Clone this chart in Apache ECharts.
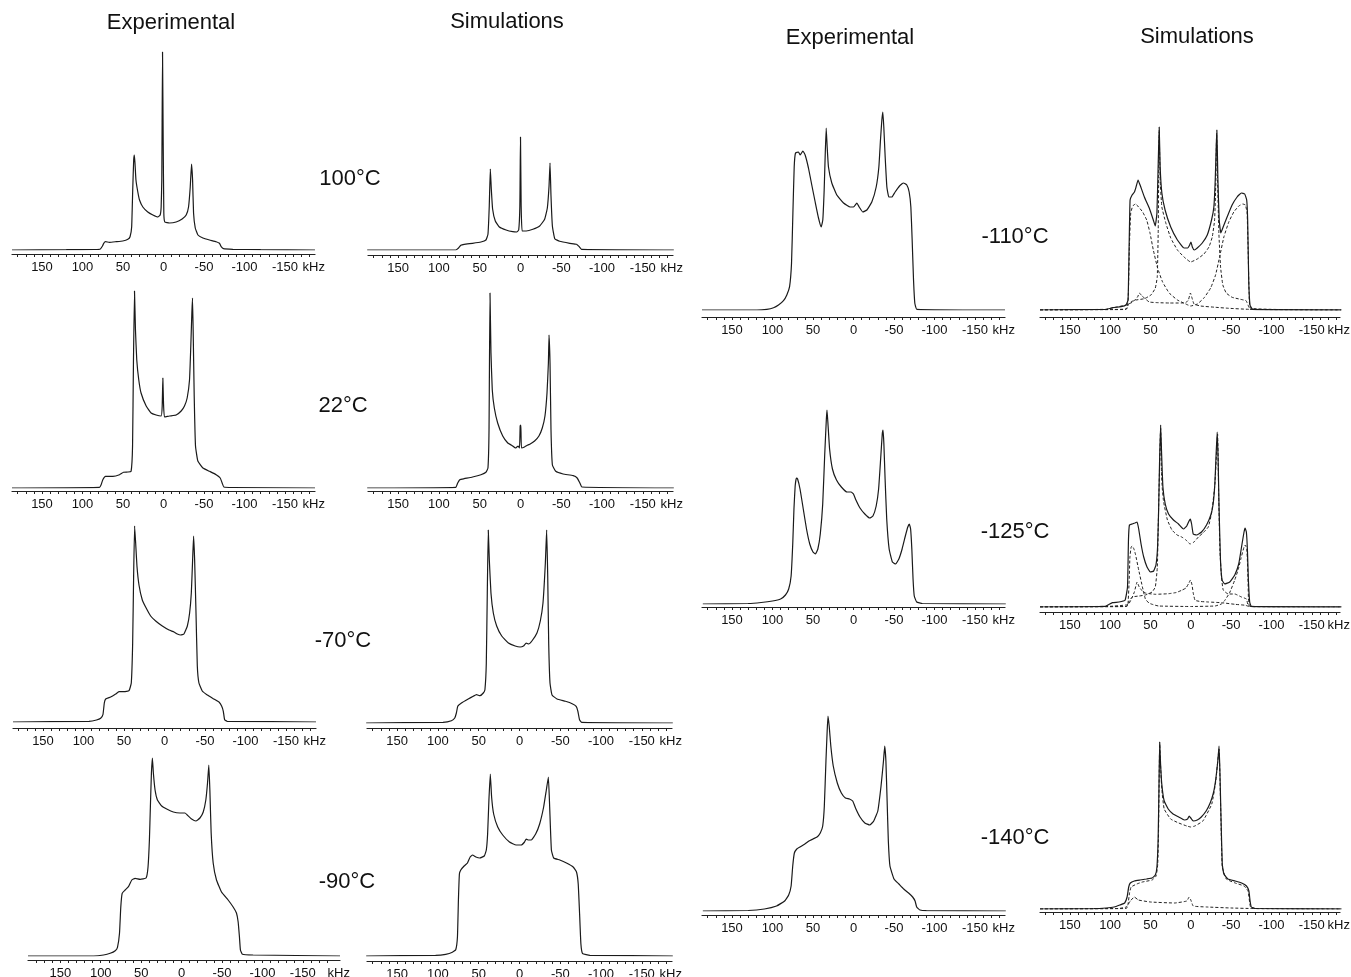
<!DOCTYPE html>
<html><head><meta charset="utf-8">
<script src="https://cdn.jsdelivr.net/npm/echarts@6/dist/echarts.min.js"></script>
<style>html,body{margin:0;padding:0;background:#fff}#c{width:1351px;height:977px}</style>
</head><body><div id="c"></div>
<script>
// ---------- DATA: [frequency kHz, intensity (arb. units)] ----------
const exp100 = [[187,0],[120,0.3],[85,0.5],[78.4,0.7],[75.3,4],[73.8,6.7],[71.6,8.3],[66.7,7.7],[58.6,8.3],[50.3,9],[44,10.7],[41.3,13.3],[39.3,23],[38,60],[36.8,90],[36,95],[35.2,87],[34,70],[31.7,58],[29.6,50],[25.5,43],[19.4,38],[13.1,35],[7,33],[4.1,35],[2.9,43],[2.1,70],[1.2,198],[0.4,110],[-0.4,37],[-1.6,28],[-7.4,27],[-15.6,28],[-23,31],[-28,35],[-30.9,43],[-33,63],[-34.6,86],[-35.9,70],[-37.1,37],[-39.2,22],[-42.5,15],[-48.6,12],[-56.8,10],[-65,8.3],[-69.1,6.7],[-71.2,3.3],[-74,1.3],[-85.6,0.7],[-120,0.3],[-187,0]];
const sim100 = [[188,0],[79.4,0],[76,2],[73.2,4.7],[69.1,5.7],[58.8,6.7],[48.5,8],[42.4,10],[39.9,15.7],[38.3,44],[37,81],[35.8,61],[34.2,41],[30.9,29],[25.9,23],[17.7,20],[9.5,18.3],[4.6,18],[2.2,20],[0.8,44],[0,113],[-0.8,44],[-2,19],[-7,19],[-15.2,20.7],[-23.5,24],[-29.6,30.7],[-32.9,42],[-35,64],[-36.2,87],[-37.4,54],[-39.1,24],[-42,11.3],[-48,8.7],[-60.5,6.7],[-68.7,5.7],[-72,3.3],[-74.8,0.7],[-188,0]];
const exp22 = [[187,0],[79,0.7],[77,3.3],[74.9,8.3],[71.6,11.7],[62.5,11.7],[54.3,13.3],[49.4,15.7],[44,16],[40,16.7],[38.2,41.7],[37.1,125],[35.8,197],[34.6,158],[33,128],[30.5,108],[27.7,95],[21.4,82],[15.3,75],[9.1,73],[2.9,72],[1.6,82],[0.8,110],[0,85],[-1.2,71],[-7.4,72],[-15.6,73],[-21.8,77],[-25.9,82],[-29.2,90],[-32.1,108],[-33.7,142],[-35,175],[-35.8,190],[-36.6,158],[-37.9,92],[-39.5,42],[-42.4,27],[-48.6,20],[-56.8,16.7],[-65,13.3],[-70,10],[-72.4,5],[-74.5,1],[-85,0.5],[-187,0]];
const sim22 = [[188,0],[79.4,0.7],[77,5],[74.5,8.3],[69.1,9.3],[58.8,11],[48.5,13.3],[42.4,15.7],[39.9,20],[38.6,58],[37.4,195],[36.2,135],[34.6,98],[32.1,80],[28,65],[21.8,52],[15.6,45],[11.5,43],[9.5,42],[6.2,40],[2.9,42],[1.2,40],[0.4,62],[-0.4,63],[-1.2,40],[-4.9,41],[-9,43],[-11.9,44],[-17.3,47],[-22.6,52],[-26.7,60],[-30,72],[-32.5,95],[-34.2,125],[-35,153],[-36.2,125],[-37.4,58],[-39.1,23],[-43.2,16.7],[-52.2,14],[-64.6,12.3],[-69.5,10],[-72.8,5],[-75.3,1],[-188,0]];
const exp70 = [[187,0],[93.2,0.7],[83.9,2],[78.8,3.7],[76,7.3],[74.3,19],[72.6,23],[66.5,25],[60.3,28],[56.2,30.3],[50,30.3],[43.8,31.3],[41,39],[39.3,79],[38.1,146],[36.9,196],[35.6,179],[34,156],[31.5,137],[27.4,122],[23.3,115],[17.1,106],[10.9,101],[2.7,96],[-5.6,92],[-11.7,90],[-15.8,88],[-19.9,87],[-24,88],[-28.2,96],[-31,109],[-33.1,129],[-34.7,162],[-35.9,186],[-37.2,162],[-38.8,112],[-40.5,56],[-42.5,39],[-46.6,31],[-52.8,27],[-61,23],[-67.2,20],[-70.5,16],[-72.6,10.7],[-74.2,2.3],[-77.5,0.7],[-187,0]];
const sim70 = [[188,0],[93.8,0.7],[83.5,2.3],[79.4,5],[77.4,10],[75.7,16.7],[71.2,20],[62.9,24],[56.8,26.7],[52.7,28.3],[48.5,27.3],[44.4,30],[42.4,33.3],[40.7,60],[39.5,130],[38.3,193],[37,163],[35,130],[32.1,110],[28,97],[21.8,87],[13.6,80],[5.3,77],[-0.8,76],[-4.9,77],[-8.2,80],[-11.1,79],[-15.2,82],[-21.4,90],[-25.5,102],[-28.8,120],[-31.7,160],[-33.3,193],[-34.6,147],[-35.8,80],[-37.4,40],[-39.9,28],[-46,24],[-56.3,21.7],[-64.6,19.3],[-69.5,16.7],[-71.6,11.7],[-73.6,3.3],[-76.1,0.7],[-188,0]];
const exp90 = [[190,0],[141.7,0],[108.8,0],[96.5,1],[88.3,2.7],[82.1,5.3],[79.3,8.7],[76.8,22.7],[75.2,49],[73.5,62.7],[69.8,66],[65.7,69.3],[61.6,76],[57.5,77.7],[51.3,76.7],[43.9,78],[41.5,89],[39.8,116],[38.6,149],[37.3,183],[36.1,198],[34.9,183],[32.8,166],[29.9,156],[24.6,150],[18.4,147],[10.2,144],[2,143],[-4.2,143],[-7,141],[-12.4,137],[-17.7,135],[-22.7,138],[-26.8,144],[-30,156],[-32.1,173],[-33.7,191],[-35,166],[-36.6,123],[-39.1,93],[-43.2,76],[-49.4,64],[-57.6,56],[-63.8,49],[-67.9,43],[-70,34],[-71.6,19],[-72.8,6],[-75.3,1.7],[-88.5,1],[-196,0]];
const sim90 = [[188,0],[102.9,0.7],[90.5,1.7],[82.3,3.7],[78.2,6.3],[76.1,19],[74.9,56],[73.7,82],[72,86],[67.9,90],[63.8,93],[60.5,99],[57.6,101],[53.5,99],[48.6,98],[43.2,100],[40.7,106],[39.1,122],[37.5,156],[35.8,182],[34.2,159],[31.7,142],[26.7,129],[20.6,121],[12.3,114],[4.1,111],[-2,111],[-6.2,114],[-8.2,117],[-11.1,116],[-14.4,116],[-19.8,122],[-24.7,132],[-29.6,149],[-32.9,166],[-35.4,179],[-37,149],[-39.1,106],[-41.9,98],[-49.4,96],[-57.6,93],[-65.8,89],[-69.9,84],[-72,72],[-73.7,42],[-75.3,12],[-77.4,2.3],[-86.4,0.7],[-188,0]];
const exp110 = [[187,0],[139.9,0],[119.3,0],[107,0.7],[98.7,2.3],[92.6,5],[86.4,9.3],[82.3,15],[78.9,23.3],[76.5,46.7],[74.8,97],[73.2,143],[71.6,157],[67.9,158],[65.8,155],[62.5,159],[59.7,155],[55.6,142],[51.5,125],[47.3,108],[43.2,92],[39.9,83],[37.9,90],[36.2,120],[35,153],[33.7,182],[32.5,163],[30.9,143],[26.8,127],[20.6,115],[12.3,107],[4.1,103],[0,103],[-4.1,107],[-7,103],[-11.5,98],[-16.5,100],[-22.6,108],[-28,123],[-31.3,143],[-33.3,170],[-35,190],[-36.2,198],[-37.4,183],[-39.1,153],[-41.2,123],[-43.6,113],[-47.3,113],[-51.4,118],[-56.8,124],[-61.7,127],[-65.8,125],[-68.7,118],[-70.8,103],[-72.4,70],[-74.1,30],[-75.7,6.7],[-78.2,0.7],[-187,0]];
const sim110 = [[187,0],[105,0.7],[96.7,2.3],[86.5,3.3],[80.3,5],[77.8,10],[76.5,63],[75.3,110],[72.8,115],[69.9,118],[67.9,123],[65.4,130],[62.9,125],[57.6,113],[51.5,102],[46.5,90],[44.1,84],[42,97],[40.4,147],[39.2,183],[38,143],[35.9,117],[31.9,100],[24.9,83],[16.6,70],[8.4,62],[3.9,62],[1.4,65],[-0.2,68],[-1.9,63],[-4.3,60],[-8,62],[-14.2,67],[-20.4,75],[-25.7,90],[-28.6,103],[-30.3,130],[-31.5,163],[-32.3,180],[-33.6,130],[-35.2,90],[-37.2,77],[-40.1,83],[-45,93],[-51.2,105],[-57.4,113],[-62.7,117],[-66.8,116],[-69.3,110],[-70.5,90],[-71.8,30],[-73.4,5],[-76.7,0.7],[-187,0]];
const outer110 = [[187,0],[100,0.5],[79.4,1.3],[77.4,17],[76.2,63],[74.5,97],[72,104],[68.7,106],[64.6,103],[59.7,98],[54.7,90],[50.6,77],[46.5,60],[41.2,42],[35,28],[26.8,17],[16.6,10],[6.3,6],[0.1,4],[-8.1,6],[-16.3,12],[-24.6,22],[-30.7,35],[-35.7,53],[-41,73],[-47.1,88],[-53.3,98],[-59.5,104],[-64.4,106],[-67.7,105],[-69.8,97],[-71,63],[-72.3,17],[-74.3,1.7],[-187,0]];
const inner110 = [[187,0],[100,0.3],[80.3,0.7],[77,6],[74.2,8.3],[67.9,10],[57.6,11.3],[49.4,15],[44.1,21.7],[41.6,33],[40.4,80],[39.2,180],[38,130],[35.9,103],[31,87],[24.9,72],[16.6,60],[8.4,53],[0.2,48],[-8,51],[-16.3,56],[-22.5,63],[-26.6,73],[-29.5,90],[-31.1,130],[-32,177],[-33.2,130],[-34.8,77],[-36.9,43],[-39.7,25],[-43.9,17],[-51.2,12.7],[-61.6,10.7],[-68.5,9.3],[-71,5],[-73.4,0.7],[-187,0]];
const small110 = [[187,0],[105,0.7],[95,2.5],[80,5],[72,8],[66,13],[63.8,17],[60.5,14],[57.6,12],[51.5,8],[40,7.3],[26.8,7],[12,7],[6.3,7.3],[3,10],[0.5,17],[-1.5,12],[-4,6],[-12,4],[-30.7,2.7],[-47,1.7],[-71.8,0.7],[-187,0]];
const exp125 = [[186,0],[130,0.5],[114,1.5],[100,3],[90,5],[84,9],[80,15],[77,28],[75,60],[73.5,95],[72,118],[70.5,126],[69,125],[66,115],[62,95],[58,75],[54,60],[50,52],[47,50],[44,55],[41,70],[38,100],[35.5,150],[33.5,185],[32.7,194],[31.5,180],[29.5,155],[26,135],[21,124],[15,117],[8,112],[3,112],[0,110],[-3,104],[-8,96],[-14,90],[-20,86],[-24,88],[-28,98],[-31,115],[-33.5,145],[-35.5,170],[-36.5,174],[-37.5,160],[-39,125],[-41,85],[-44,55],[-48,42],[-52,40],[-56,45],[-60,55],[-64,68],[-67,77],[-69,80],[-70.5,75],[-72,55],[-73.5,25],[-75,8],[-78,2],[-85,0.5],[-188,0]];
const sim125 = [[187,0],[105.7,0.7],[101.2,2.7],[97.1,4.3],[89,5],[81.6,6.7],[78.5,20],[77.3,67],[76.1,82],[72.7,83],[69.5,84],[66.6,85],[64.6,78],[61.7,63],[58.4,50],[54.3,40],[50.2,35],[46.1,36],[43.2,42],[41.2,60],[39.9,97],[38.7,147],[37.4,182],[36.2,153],[34.6,120],[31.7,103],[27.6,93],[21.5,87],[15.3,83],[9.1,78],[5,81],[2.2,86],[0.6,88],[-1,83],[-3,73],[-7.1,72],[-13.3,75],[-19.5,82],[-24.8,92],[-27.7,103],[-29.8,123],[-31.4,153],[-32.7,175],[-33.9,147],[-35.1,97],[-36.8,47],[-38.8,27],[-42.1,23],[-48.3,25],[-54.5,32],[-59.4,43],[-63.5,63],[-66,75],[-67.3,79],[-68.9,75],[-70.2,57],[-71.4,27],[-73,5],[-75.1,0.7],[-187,0]];
const outer125 = [[187,0],[80,0.5],[78,1.7],[76.5,25],[75.5,50],[74,60],[72.7,61],[70.5,58],[68.7,53],[64.6,37],[60,20],[56.3,8],[52,4],[48,2.7],[40,1],[0,0.5],[-30,1],[-38,3],[-42.2,6.7],[-48,14],[-54.5,27],[-59,38],[-62,48],[-66,60],[-67.7,62],[-69.2,58],[-70,50],[-71,25],[-71.8,3],[-75,0.3],[-187,0]];
const inner125 = [[187,0],[80,0.5],[77,5],[72.7,10],[64,11],[56.3,12],[48,15],[44,20],[41.5,40],[39.9,100],[37.4,180],[36.4,135],[35.5,120],[33.7,105],[29,87],[23.4,77],[17,72],[11.3,70],[6,67],[0.9,63],[-4,65],[-9.4,70],[-15,74],[-21.7,80],[-26,95],[-29.9,123],[-33.2,173],[-34.6,110],[-36.1,57],[-38,30],[-40.2,17],[-46.3,13],[-54.5,13],[-62.8,10],[-69,8],[-71,1.7],[-75,0.3],[-187,0]];
const small125 = [[187,0],[100,0.7],[80,2],[77,3],[73,9],[70,15],[66.6,25],[64,20],[62.5,18],[56.3,14],[44,12.7],[27.6,13.3],[18,14.5],[11.3,16.7],[6,19],[3,23],[0.3,27],[-1.5,22],[-3,14],[-5.3,6.7],[-12,5.5],[-21.7,5],[-38,4.3],[-54.5,2.7],[-68,1.7],[-72,0.5],[-187,0]];
const exp140 = [[186,0],[130,0.5],[110,2],[95,5],[85,10],[80,16],[77,25],[75,45],[73,58],[70,62],[66,64],[60,67],[55,70],[50,72],[45,74],[41,78],[38,85],[36,105],[34,150],[32.5,180],[31.5,195],[30,185],[28,165],[25,145],[20,128],[15,118],[10,113],[5,112],[1,110],[-3,102],[-8,94],[-14,88],[-20,86],[-25,90],[-30,100],[-34,125],[-37,150],[-38.5,165],[-40,150],[-41.5,110],[-43,70],[-45,45],[-50,32],[-56,27],[-62,22],[-68,18],[-73,14],[-76,10],[-78,4],[-82,1],[-90,0.3],[-188,0]];
const sim140 = [[187,0],[120,0.3],[105,1],[95,2],[88,4],[82,6],[79,12],[77,22],[75,26],[70,28],[63,29],[55,30],[48,31],[44,34],[42,42],[40.5,70],[39.5,120],[38.6,167],[37.5,145],[36,125],[33,108],[28,100],[22,95],[15,92],[8,89],[4,90],[2,93],[0,91],[-3,88],[-8,89],[-13,92],[-19,98],[-24,106],[-28,116],[-31,130],[-33.5,148],[-35,163],[-36,140],[-37.5,90],[-39,45],[-41,35],[-46,30],[-55,28],[-63,26],[-69,23],[-72,18],[-73.5,8],[-75,2],[-80,0.5],[-187,0]];
const inner140 = [[187,0],[80,0.5],[78,4],[76,16],[74,22],[67,25],[60,27],[48,29],[43,33],[41,45],[40,78],[38.6,165],[37.3,140],[36,120],[33,100],[25,90],[15,86],[5,83],[0,82],[-5,83],[-15,88],[-26,105],[-31,128],[-35,160],[-36.2,130],[-37.5,85],[-39,42],[-44,30],[-55,26],[-66,23],[-71,18],[-74,2],[-80,0.3],[-187,0]];
const small140 = [[187,0],[90,0.5],[80,2],[75,8],[70,12],[65,9],[50,7],[20,6],[5,8],[2,12],[0,9],[-3,3],[-20,2],[-50,1],[-75,0.5],[-187,0]];

const tickLabels = [150, 100, 50, 0, -50, -100, -150];
const tickMarks = [-180,-170,-160,-150,-140,-130,-120,-110,-100,-90,-80,-70,-60,-50,-40,-30,-20,-10,0,10,20,30,40,50,60,70,80,90,100,110,120,130,140,150,160,170,180];
const columnTitles = ['Experimental', 'Simulations', 'Experimental', 'Simulations'];
const temperatures = ['100°C', '22°C', '-70°C', '-90°C', '-110°C', '-125°C', '-140°C'];
const unitLabel = 'kHz';

// ---------- LAYOUT ----------
// box: [left px, right px, baseline y px, axis-line y px], range: [min kHz, max kHz]
const panels = [
  {solid: exp100, dashed: [], box: [12, 315, 250, 254], range: [-187, 187]},
  {solid: sim100, dashed: [], box: [368, 673, 250, 255], range: [-187, 187]},
  {solid: exp22, dashed: [], box: [12, 315, 488, 491], range: [-187, 187]},
  {solid: sim22, dashed: [], box: [368, 673, 488, 491], range: [-187, 187]},
  {solid: exp70, dashed: [], box: [13, 316, 722, 728], range: [-187, 187]},
  {solid: sim70, dashed: [], box: [367, 672, 723, 728], range: [-187, 187]},
  {solid: exp90, dashed: [], box: [28, 340, 956, 960], range: [-196, 190]},
  {solid: sim90, dashed: [], box: [367, 672, 956, 961], range: [-187, 187]},
  {solid: exp110, dashed: [], box: [702, 1005, 310, 317], range: [-187, 187]},
  {solid: sim110, dashed: [outer110, inner110, small110], box: [1040, 1340, 310, 317], range: [-185, 187]},
  {solid: exp125, dashed: [], box: [702, 1005, 604, 607], range: [-187, 187]},
  {solid: sim125, dashed: [outer125, inner125, small125], box: [1040, 1340, 607, 612], range: [-185, 187]},
  {solid: exp140, dashed: [], box: [702, 1005, 911, 915], range: [-187, 187]},
  {solid: sim140, dashed: [inner140, small140], box: [1040, 1340, 909, 912], range: [-185, 187]}
];
const titlePos = [[171, 23], [507, 22], [850, 38], [1197, 37]];
const tempPos = [[350, 179], [343, 406], [343, 641], [347, 882], [1015, 237], [1015, 532], [1015, 838]];
const PH = 200;

const bigFont = "22px 'Liberation Sans', Arial, sans-serif";
const tickFont = "'Liberation Sans Narrow', 'Liberation Sans', Arial, sans-serif";

const grid = [], xAxis = [], yAxis = [], series = [];
panels.forEach((p, i) => {
  const [l, r, base, ax] = p.box;
  grid.push({left: l, top: base - PH, width: r - l, height: PH, containLabel: false, outerBoundsMode: 'none'});
  yAxis.push({gridIndex: i, type: 'value', min: 0, max: PH, show: false});
  xAxis.push({
    gridIndex: i, type: 'value', inverse: true, min: p.range[0], max: p.range[1],
    offset: ax - base,
    axisLine: {show: true, onZero: false, lineStyle: {color: '#222', width: 1.2}},
    axisTick: {show: true, inside: false, length: 3, customValues: tickMarks, lineStyle: {color: '#222', width: 1}},
    axisLabel: {show: true, customValues: tickLabels, margin: 7, fontSize: 13, color: '#111', fontFamily: tickFont, hideOverlap: false},
    splitLine: {show: false},
    name: unitLabel, nameLocation: 'start', nameGap: 10, nameMoveOverlap: false,
    nameTextStyle: {align: 'right', verticalAlign: 'top', padding: [7, 0, 0, 0], fontSize: 13, color: '#111', fontFamily: tickFont}
  });
  series.push({type: 'line', xAxisIndex: i, yAxisIndex: i, data: p.solid, showSymbol: false, smooth: 0.12,
    lineStyle: {color: '#1a1a1a', width: 1.2}, silent: true, z: 3});
  p.dashed.forEach(d => {
    series.push({type: 'line', xAxisIndex: i, yAxisIndex: i, data: d, showSymbol: false, smooth: 0.12,
      lineStyle: {color: '#222', width: 1, type: [3, 2]}, silent: true, z: 2});
  });
});

const graphic = [];
columnTitles.forEach((t, i) => graphic.push({type: 'text', x: titlePos[i][0], y: titlePos[i][1],
  style: {text: t, font: bigFont, fill: '#111', textAlign: 'center', textVerticalAlign: 'middle'}}));
temperatures.forEach((t, i) => graphic.push({type: 'text', x: tempPos[i][0], y: tempPos[i][1],
  style: {text: t, font: bigFont, fill: '#111', textAlign: 'center', textVerticalAlign: 'middle'}}));

const chart = echarts.init(document.getElementById('c'), null, {renderer: 'canvas'});
chart.setOption({animation: false, backgroundColor: '#fff', grid, xAxis, yAxis, series, graphic});
</script></body></html>
